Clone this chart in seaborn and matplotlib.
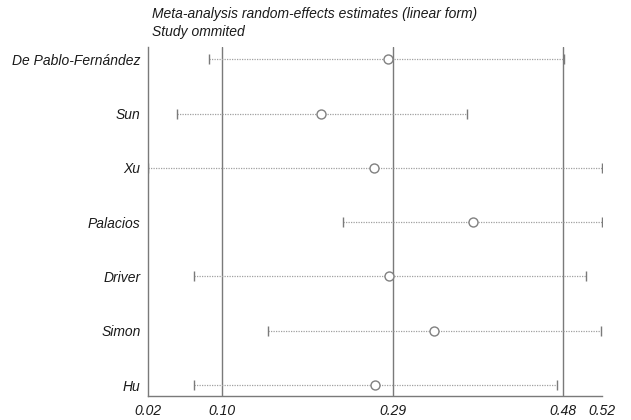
import numpy as np
import pandas as pd
import matplotlib
matplotlib.use("Agg")
import matplotlib.pyplot as plt
import seaborn as sns

studies = ["De Pablo-Fernández", "Sun", "Xu", "Palacios", "Driver", "Simon", "Hu"]
estimate = [0.284, 0.211, 0.269, 0.378, 0.286, 0.335, 0.270]
lower = [0.088, 0.052, 0.020, 0.235, 0.071, 0.152, 0.071]
upper = [0.478, 0.371, 0.520, 0.520, 0.502, 0.519, 0.471]
ref_lines = [0.102, 0.290, 0.477]
x_ticks = [0.02, 0.102, 0.290, 0.477, 0.52]
title_lines = ["Meta-analysis random-effects estimates (linear form)", "Study ommited"]

sns.set_theme(style="white")
plt.rcParams["font.family"] = ["Liberation Sans", "DejaVu Sans"]

df = pd.DataFrame({"study": studies, "est": estimate, "lo": lower, "hi": upper})
df["pos"] = np.arange(len(df))

fig = plt.figure(figsize=(6.31, 4.20), dpi=100)
ax = fig.add_axes([147.7 / 631, 1 - 396 / 420, (602 - 147.7) / 631, (396 - 47) / 420])

line_col = "#7a7a7a"
for v in ref_lines:
    ax.axvline(v, color=line_col, lw=1.0, zorder=1)

ax.hlines(df["pos"], df["lo"], df["hi"], colors="#a0a0a0", linestyles=(0, (1, 1.0)), lw=0.9, zorder=2)

caps = pd.concat([df[["lo", "pos"]].rename(columns={"lo": "x"}),
                  df[["hi", "pos"]].rename(columns={"hi": "x"})])
sns.scatterplot(data=caps, x="x", y="pos", marker="|", s=60, color="#7a7a7a",
                linewidth=1.0, ax=ax, zorder=3, legend=False)
sns.scatterplot(data=df, x="est", y="pos", marker="o", s=42, facecolor="white",
                edgecolor="#808080", linewidth=1.0, ax=ax, zorder=4, legend=False)

ax.set_xlim(0.02, 0.52)
ax.set_ylim(len(df) - 1 + 11 / 54.3, -12.3 / 54.3)
ax.set_yticks(df["pos"])
ax.set_yticklabels(df["study"], fontstyle="italic", fontsize=10, color="#1a1a1a")
ax.set_xticks(x_ticks)
ax.set_xticklabels([f"{t:.2f}" for t in x_ticks], fontstyle="italic", fontsize=10, color="#1a1a1a")
ax.tick_params(axis="y", length=0, pad=5)
ax.tick_params(axis="x", direction="in", length=4, width=1, color=line_col, pad=6)
ax.set_xlabel("")
ax.set_ylabel("")

for s in ["top", "right"]:
    ax.spines[s].set_visible(False)
for s in ["left", "bottom"]:
    ax.spines[s].set_color(line_col)
    ax.spines[s].set_linewidth(1.0)

fig.text(152.5 / 631, 1 - 14 / 420, title_lines[0], fontstyle="italic", fontsize=10,
         color="#1a1a1a", va="center", ha="left")
fig.text(152.5 / 631, 1 - 32 / 420, title_lines[1], fontstyle="italic", fontsize=10,
         color="#1a1a1a", va="center", ha="left")

fig.savefig("out.png", dpi=100, facecolor="white")
